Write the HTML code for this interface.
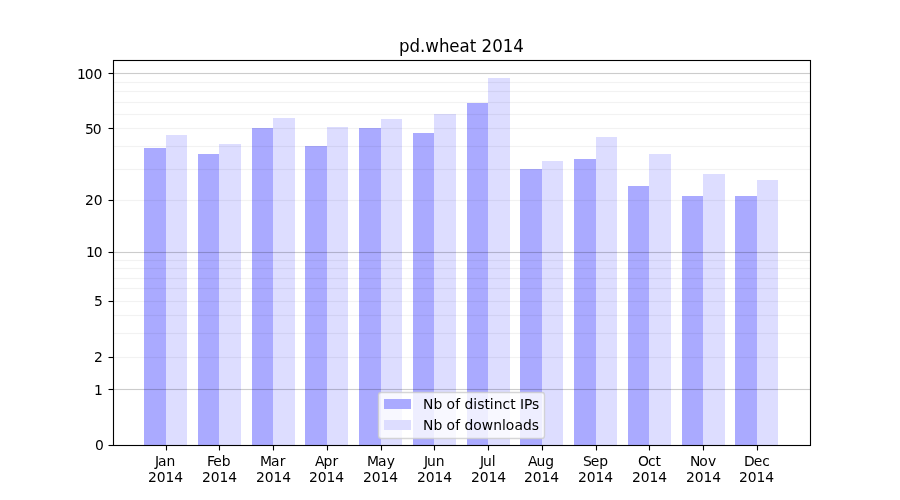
<!DOCTYPE html>
<html lang="en">
<head>
<meta charset="utf-8">
<title>pd.wheat 2014</title>
<style>
html,body{margin:0;padding:0;background:#fff;}
body{width:900px;height:500px;overflow:hidden;}
svg{display:block;}
text{font-family:"DejaVu Sans","Liberation Sans",sans-serif;fill:#000;}
.t10{font-size:13.889px;}
.t12{font-size:16.667px;}
</style>
</head>
<body>
<svg width="900" height="500" viewBox="0 0 900 500">
<rect width="900" height="500" fill="#ffffff"/>
<g shape-rendering="crispEdges">
<rect x="144" y="148" width="22" height="297" fill="#aaaaff"/><rect x="166" y="135" width="21" height="310" fill="#ddddff"/>
<rect x="198" y="154" width="21" height="291" fill="#aaaaff"/><rect x="219" y="144" width="22" height="301" fill="#ddddff"/>
<rect x="252" y="128" width="21" height="317" fill="#aaaaff"/><rect x="273" y="118" width="22" height="327" fill="#ddddff"/>
<rect x="305" y="146" width="22" height="299" fill="#aaaaff"/><rect x="327" y="127" width="21" height="318" fill="#ddddff"/>
<rect x="359" y="128" width="22" height="317" fill="#aaaaff"/><rect x="381" y="119" width="21" height="326" fill="#ddddff"/>
<rect x="413" y="133" width="21" height="312" fill="#aaaaff"/><rect x="434" y="114" width="22" height="331" fill="#ddddff"/>
<rect x="467" y="103" width="21" height="342" fill="#aaaaff"/><rect x="488" y="78" width="22" height="367" fill="#ddddff"/>
<rect x="520" y="169" width="22" height="276" fill="#aaaaff"/><rect x="542" y="161" width="21" height="284" fill="#ddddff"/>
<rect x="574" y="159" width="22" height="286" fill="#aaaaff"/><rect x="596" y="137" width="21" height="308" fill="#ddddff"/>
<rect x="628" y="186" width="21" height="259" fill="#aaaaff"/><rect x="649" y="154" width="22" height="291" fill="#ddddff"/>
<rect x="682" y="196" width="21" height="249" fill="#aaaaff"/><rect x="703" y="174" width="22" height="271" fill="#ddddff"/>
<rect x="735" y="196" width="22" height="249" fill="#aaaaff"/><rect x="757" y="180" width="21" height="265" fill="#ddddff"/>
</g>
<g stroke="#000" stroke-width="1.111" fill="none">
<line x1="113.5" x2="810.5" y1="357.5" y2="357.5" stroke-opacity="0.05"/>
<line x1="113.5" x2="810.5" y1="333.5" y2="333.5" stroke-opacity="0.05"/>
<line x1="113.5" x2="810.5" y1="315.5" y2="315.5" stroke-opacity="0.05"/>
<line x1="113.5" x2="810.5" y1="301.5" y2="301.5" stroke-opacity="0.05"/>
<line x1="113.5" x2="810.5" y1="288.5" y2="288.5" stroke-opacity="0.05"/>
<line x1="113.5" x2="810.5" y1="278.5" y2="278.5" stroke-opacity="0.05"/>
<line x1="113.5" x2="810.5" y1="268.5" y2="268.5" stroke-opacity="0.05"/>
<line x1="113.5" x2="810.5" y1="260.5" y2="260.5" stroke-opacity="0.05"/>
<line x1="113.5" x2="810.5" y1="200.5" y2="200.5" stroke-opacity="0.05"/>
<line x1="113.5" x2="810.5" y1="169.5" y2="169.5" stroke-opacity="0.05"/>
<line x1="113.5" x2="810.5" y1="146.5" y2="146.5" stroke-opacity="0.05"/>
<line x1="113.5" x2="810.5" y1="128.5" y2="128.5" stroke-opacity="0.05"/>
<line x1="113.5" x2="810.5" y1="114.5" y2="114.5" stroke-opacity="0.05"/>
<line x1="113.5" x2="810.5" y1="102.5" y2="102.5" stroke-opacity="0.05"/>
<line x1="113.5" x2="810.5" y1="91.5" y2="91.5" stroke-opacity="0.05"/>
<line x1="113.5" x2="810.5" y1="82.5" y2="82.5" stroke-opacity="0.05"/>
<line x1="113.5" x2="810.5" y1="389.5" y2="389.5" stroke-opacity="0.2"/>
<line x1="113.5" x2="810.5" y1="252.5" y2="252.5" stroke-opacity="0.2"/>
<line x1="113.5" x2="810.5" y1="73.5" y2="73.5" stroke-opacity="0.2"/>
</g>
<g stroke="#000" stroke-width="1" fill="none" shape-rendering="crispEdges">
<path d="M113.5 356.5H810.5M113.5 358.5H810.5M113.5 332.5H810.5M113.5 334.5H810.5M113.5 314.5H810.5M113.5 316.5H810.5M113.5 300.5H810.5M113.5 302.5H810.5M113.5 287.5H810.5M113.5 289.5H810.5M113.5 277.5H810.5M113.5 279.5H810.5M113.5 267.5H810.5M113.5 269.5H810.5M113.5 259.5H810.5M113.5 261.5H810.5M113.5 199.5H810.5M113.5 201.5H810.5M113.5 168.5H810.5M113.5 170.5H810.5M113.5 145.5H810.5M113.5 147.5H810.5M113.5 127.5H810.5M113.5 129.5H810.5M113.5 113.5H810.5M113.5 115.5H810.5M113.5 101.5H810.5M113.5 103.5H810.5M113.5 90.5H810.5M113.5 92.5H810.5M113.5 81.5H810.5M113.5 83.5H810.5" stroke-opacity="0.005"/>
<path d="M113.5 388.5H810.5M113.5 390.5H810.5M113.5 251.5H810.5M113.5 253.5H810.5M113.5 72.5H810.5M113.5 74.5H810.5" stroke-opacity="0.012"/>
</g>
<g stroke="#000" stroke-width="1.111" fill="none">
<line x1="166.5" x2="166.5" y1="445.5" y2="450.5"/>
<line x1="219.5" x2="219.5" y1="445.5" y2="450.5"/>
<line x1="273.5" x2="273.5" y1="445.5" y2="450.5"/>
<line x1="327.5" x2="327.5" y1="445.5" y2="450.5"/>
<line x1="381.5" x2="381.5" y1="445.5" y2="450.5"/>
<line x1="434.5" x2="434.5" y1="445.5" y2="450.5"/>
<line x1="488.5" x2="488.5" y1="445.5" y2="450.5"/>
<line x1="542.5" x2="542.5" y1="445.5" y2="450.5"/>
<line x1="596.5" x2="596.5" y1="445.5" y2="450.5"/>
<line x1="649.5" x2="649.5" y1="445.5" y2="450.5"/>
<line x1="703.5" x2="703.5" y1="445.5" y2="450.5"/>
<line x1="757.5" x2="757.5" y1="445.5" y2="450.5"/>
<line x1="108.5" x2="113.5" y1="445.5" y2="445.5"/>
<line x1="108.5" x2="113.5" y1="389.5" y2="389.5"/>
<line x1="108.5" x2="113.5" y1="357.5" y2="357.5"/>
<line x1="108.5" x2="113.5" y1="301.5" y2="301.5"/>
<line x1="108.5" x2="113.5" y1="252.5" y2="252.5"/>
<line x1="108.5" x2="113.5" y1="200.5" y2="200.5"/>
<line x1="108.5" x2="113.5" y1="128.5" y2="128.5"/>
<line x1="108.5" x2="113.5" y1="73.5" y2="73.5"/>
</g>
<rect x="113.5" y="60.5" width="697" height="385" fill="none" stroke="#000" stroke-width="1.111"/>
<g>
<text class="t10" x="155 158 166.5" y="466">Jan</text><text class="t10" x="148 156.75 165.5 174.25" y="482">2014</text>
<text class="t10" x="207 213.25 221.75" y="466">Feb</text><text class="t10" x="202 210.75 219.5 228.25" y="482">2014</text>
<text class="t10" x="260 271 279.75" y="466">Mar</text><text class="t10" x="256 264.75 273.5 282.25" y="482">2014</text>
<text class="t10" x="315 323.5 332.5" y="466">Apr</text><text class="t10" x="309 317.75 326.5 335.25" y="482">2014</text>
<text class="t10" x="367 378 386.75" y="466">May</text><text class="t10" x="363 371.75 380.5 389.25" y="482">2014</text>
<text class="t10" x="424 427 435.75" y="466">Jun</text><text class="t10" x="417 425.75 434.5 443.25" y="482">2014</text>
<text class="t10" x="480 483 491.75" y="466">Jul</text><text class="t10" x="471 479.75 488.5 497.25" y="482">2014</text>
<text class="t10" x="528 536.5 545.25" y="466">Aug</text><text class="t10" x="524 532.75 541.5 550.25" y="482">2014</text>
<text class="t10" x="583 590.75 599.25" y="466">Sep</text><text class="t10" x="578 586.75 595.5 604.25" y="482">2014</text>
<text class="t10" x="638 648 655.5" y="466">Oct</text><text class="t10" x="632 640.75 649.5 658.25" y="482">2014</text>
<text class="t10" x="690 699.25 708" y="466">Nov</text><text class="t10" x="686 694.75 703.5 712.25" y="482">2014</text>
<text class="t10" x="744 753.75 762.25" y="466">Dec</text><text class="t10" x="739 747.75 756.5 765.25" y="482">2014</text>
</g>
<g>
<text class="t10" x="95" y="450">0</text>
<text class="t10" x="94" y="395">1</text>
<text class="t10" x="94" y="362">2</text>
<text class="t10" x="94" y="306">5</text>
<text class="t10" x="86 93.75" y="257">10</text>
<text class="t10" x="85 93.75" y="205">20</text>
<text class="t10" x="85 92.75" y="134">50</text>
<text class="t10" x="77 84.75 93.5" y="79">100</text>
</g>
<text class="t12" transform="translate(0 51.5) scale(1 1.11)" x="399 409.5 420 425.25 439 449.25 459.5 469.75 476.25 481.5 492.25 502.75 513.25" y="0">pd.wheat 2014</text>
<rect x="378.5" y="392.5" width="166" height="46" rx="2.778" ry="2.778" fill="#ffffff" fill-opacity="0.8" stroke="#cccccc" stroke-opacity="0.8" stroke-width="1.389"/>
<g shape-rendering="crispEdges"><rect x="384" y="399" width="27" height="10" fill="#aaaaff"/><rect x="384" y="420" width="27" height="10" fill="#ddddff"/></g>
<g><text class="t10" x="423 433.5 442.25 446.5 455.25 460 464.5 473.25 477.25 484.5 489.75 493.75 502.5 510.25 515.5 520 524 532" y="409">Nb of distinct IPs</text><text class="t10" x="423 433.5 442.25 446.5 455.25 460 464.5 473.25 481.75 493.25 502 505.75 514.5 523 531.75" y="430">Nb of downloads</text></g>
</svg>
</body>
</html>
